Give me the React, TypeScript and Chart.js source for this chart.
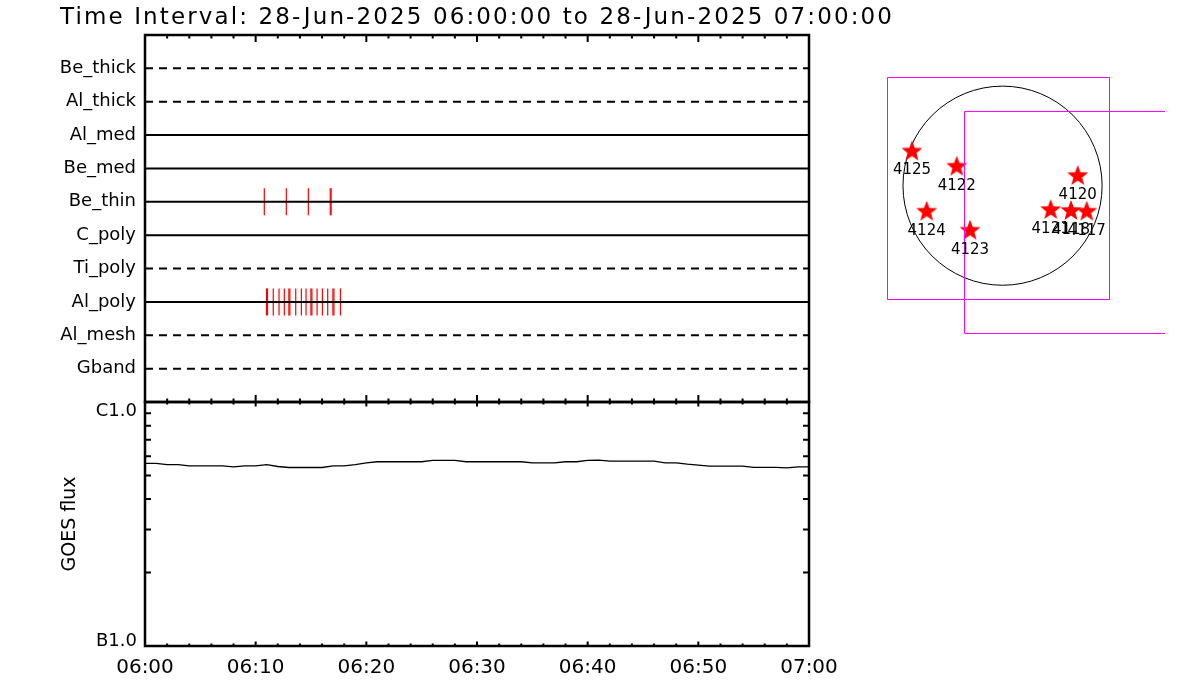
import React, { useEffect, useRef } from "react";
import { Chart, registerables } from "chart.js";

Chart.register(...registerables);

const FONT = '"DejaVu Sans", "Liberation Sans", sans-serif';

// ---------- data ----------
const TITLE = "Time Interval: 28-Jun-2025 06:00:00 to 28-Jun-2025 07:00:00";

const TIME_MIN = 0; // minutes after 06:00
const TIME_MAX = 60;

const FILTERS = ["Be_thick", "Al_thick", "Al_med", "Be_med", "Be_thin", "C_poly", "Ti_poly", "Al_poly", "Al_mesh", "Gband"];
const FILTER_IN_USE = [false, false, true, true, true, true, false, true, false, false];

// exposure times (minutes after 06:00)
const BE_THIN_TIMES = [10.78, 12.77, 14.76, 16.74, 16.82];
const AL_POLY_TIMES = [10.98, 11.07, 11.59, 12.11, 12.59, 13.0, 13.09, 13.62, 14.13, 14.55, 14.99, 15.08, 15.55, 16.03, 16.51, 16.98, 17.07, 17.66];

// GOES flux, one value per minute from 06:00 to 07:00 (W/m^2)
const GOES_FLUX = [
  5.60e-7, 5.60e-7, 5.54e-7, 5.54e-7, 5.47e-7, 5.47e-7, 5.47e-7, 5.47e-7, 5.42e-7, 5.47e-7,
  5.47e-7, 5.54e-7, 5.44e-7, 5.39e-7, 5.39e-7, 5.39e-7, 5.39e-7, 5.47e-7, 5.47e-7, 5.54e-7,
  5.63e-7, 5.69e-7, 5.69e-7, 5.69e-7, 5.69e-7, 5.69e-7, 5.76e-7, 5.76e-7, 5.76e-7, 5.69e-7,
  5.69e-7, 5.69e-7, 5.69e-7, 5.69e-7, 5.69e-7, 5.63e-7, 5.63e-7, 5.63e-7, 5.69e-7, 5.69e-7,
  5.76e-7, 5.78e-7, 5.72e-7, 5.72e-7, 5.72e-7, 5.72e-7, 5.72e-7, 5.63e-7, 5.63e-7, 5.56e-7,
  5.51e-7, 5.46e-7, 5.46e-7, 5.46e-7, 5.46e-7, 5.40e-7, 5.40e-7, 5.40e-7, 5.37e-7, 5.42e-7,
  5.42e-7,
];
const GOES_MIN = 1e-7;
const GOES_MAX = 1e-6;
const GOES_LABEL_LOW = "B1.0";
const GOES_LABEL_HIGH = "C1.0";
const GOES_AXIS_TITLE = "GOES flux";

const XTICK_VALUES = [0, 10, 20, 30, 40, 50, 60];
const XTICK_LABELS = ["06:00", "06:10", "06:20", "06:30", "06:40", "06:50", "07:00"];

// solar map (arcsec)
const SOLAR_RADIUS = 950;
const MAP_X_RANGE = [-1360, 1550];
const MAP_Y_RANGE = [-1520, 1390];
const AR_NUMBERS = ["4125", "4122", "4124", "4123", "4120", "4121", "4118", "4117"];
const AR_X = [-864, -437, -724, -310, 717, 459, 653, 803];
const AR_Y = [326, 181, -248, -429, 92, -232, -241, -248];
const FOV_CENTER_X = [-38.5, 696];
const FOV_CENTER_Y = [-27, -351];
const FOV_SIZE = [2118, 2118];

// ---------- helpers ----------
function drawXTicks(ctx: CanvasRenderingContext2D, xs: any, yPix: number, dir: number, majorLen: number, minorLen: number) {
  ctx.beginPath();
  for (let m = TIME_MIN; m <= TIME_MAX; m += 2) {
    const px = xs.getPixelForValue(m);
    const len = m % 10 === 0 ? majorLen : minorLen;
    ctx.moveTo(px, yPix);
    ctx.lineTo(px, yPix + dir * len);
  }
  ctx.stroke();
}

function makeStar(R: number, color: string) {
  const size = Math.ceil(R * 2) + 2;
  const c = document.createElement("canvas");
  c.width = size;
  c.height = size;
  const g = c.getContext("2d")!;
  g.translate(size / 2, size / 2);
  g.beginPath();
  for (let k = 0; k < 10; k++) {
    const r = k % 2 === 0 ? R : R * 0.42;
    const a = -Math.PI / 2 + (k * Math.PI) / 5;
    g.lineTo(r * Math.cos(a), r * Math.sin(a));
  }
  g.closePath();
  g.fillStyle = color;
  g.fill();
  return c;
}

const commonOpts = {
  animation: false as const,
  responsive: false,
  devicePixelRatio: 1,
  events: [] as any[],
  plugins: { legend: { display: false }, tooltip: { enabled: false }, title: { display: false } },
};

export default function App() {
  const filterRef = useRef<HTMLCanvasElement>(null);
  const goesRef = useRef<HTMLCanvasElement>(null);
  const mapRef = useRef<HTMLCanvasElement>(null);

  useEffect(() => {
    const charts: Chart[] = [];

    // ---------- filter panel ----------
    const filterPlugin = {
      id: "filterFrame",
      afterDraw(chart: any) {
        const { ctx, chartArea: a } = chart;
        const xs = chart.scales.x;
        ctx.save();
        ctx.strokeStyle = "#000";
        ctx.lineWidth = 2.5;
        ctx.strokeRect(a.left, a.top, a.right - a.left, a.bottom - a.top);
        ctx.lineWidth = 2;
        drawXTicks(ctx, xs, a.top, 1, 7, 3.5);
        drawXTicks(ctx, xs, a.bottom, -1, 7, 3.5);
        // title
        ctx.fillStyle = "#000";
        ctx.font = `23px ${FONT}`;
        ctx.textAlign = "left";
        ctx.textBaseline = "alphabetic";
        const w = ctx.measureText(TITLE).width;
        const sp = (832 - w) / (TITLE.length - 1);
        (ctx as any).letterSpacing = `${sp}px`;
        ctx.fillText(TITLE, 60, 24);
        ctx.restore();
      },
    };

    const filterLines = FILTERS.map((name, i) => ({
      type: "line" as const,
      label: name,
      data: [
        { x: TIME_MIN, y: i },
        { x: TIME_MAX, y: i },
      ],
      borderColor: "#000",
      borderWidth: 2,
      borderDash: FILTER_IN_USE[i] ? [] : [8, 6],
      pointRadius: 0,
    }));

    const tickSet = (times: number[], filter: string) => ({
      type: "scatter" as const,
      label: filter,
      data: times.map((t) => ({ x: t, y: FILTERS.indexOf(filter) })),
      pointStyle: "line",
      pointRotation: 90,
      pointRadius: 13.5,
      pointBorderColor: "#ff0000",
      pointBackgroundColor: "#ff0000",
      pointBorderWidth: 1.2,
      showLine: false,
    });

    charts.push(
      new Chart(filterRef.current!, {
        type: "line",
        data: {
          datasets: [...filterLines, tickSet(BE_THIN_TIMES, "Be_thin"), tickSet(AL_POLY_TIMES, "Al_poly")] as any,
        },
        options: {
          ...commonOpts,
          layout: { autoPadding: false, padding: { top: 35, right: 101, bottom: 28, left: 0 } },
          scales: {
            x: { type: "linear", min: TIME_MIN, max: TIME_MAX, display: false },
            y: {
              type: "linear",
              min: -1,
              max: FILTERS.length,
              reverse: true,
              afterFit: (s: any) => {
                s.width = 145;
              },
              afterBuildTicks: (s: any) => {
                s.ticks = FILTERS.map((_, i) => ({ value: i }));
              },
              grid: { display: false, drawTicks: false },
              border: { display: false },
              ticks: {
                color: "#000",
                font: { family: FONT, size: 18 },
                padding: 9,
                callback: (v: any) => FILTERS[v] ?? "",
              },
            },
          },
        } as any,
        plugins: [filterPlugin],
      })
    );

    // ---------- GOES panel ----------
    const goesPlugin = {
      id: "goesFrame",
      afterDraw(chart: any) {
        const { ctx, chartArea: a } = chart;
        const xs = chart.scales.x;
        const ys = chart.scales.y;
        ctx.save();
        ctx.strokeStyle = "#000";
        ctx.lineWidth = 2.5;
        ctx.strokeRect(a.left, a.top, a.right - a.left, a.bottom - a.top);
        ctx.lineWidth = 2;
        drawXTicks(ctx, xs, a.top, 1, 4.5, 2.5);
        drawXTicks(ctx, xs, a.bottom, -1, 4.5, 2.5);
        ctx.beginPath();
        for (let k = 2; k <= 9; k++) {
          const py = ys.getPixelForValue(k * GOES_MIN);
          ctx.moveTo(a.left, py);
          ctx.lineTo(a.left + 6, py);
          ctx.moveTo(a.right, py);
          ctx.lineTo(a.right - 6, py);
        }
        ctx.stroke();
        ctx.fillStyle = "#000";
        ctx.font = `18px ${FONT}`;
        ctx.textAlign = "right";
        ctx.textBaseline = "alphabetic";
        ctx.fillText(GOES_LABEL_HIGH, 137, ys.getPixelForValue(GOES_MAX) + 13.5);
        ctx.fillText(GOES_LABEL_LOW, 137, ys.getPixelForValue(GOES_MIN));
        ctx.translate(70, (a.top + a.bottom) / 2);
        ctx.rotate(-Math.PI / 2);
        ctx.textAlign = "center";
        ctx.textBaseline = "middle";
        ctx.font = `19px ${FONT}`;
        ctx.fillText(GOES_AXIS_TITLE, 0, 0);
        ctx.restore();
      },
    };

    charts.push(
      new Chart(goesRef.current!, {
        type: "line",
        data: {
          datasets: [
            {
              label: "GOES",
              data: GOES_FLUX.map((f, i) => ({ x: TIME_MIN + i, y: f })),
              borderColor: "#000",
              borderWidth: 1.3,
              pointRadius: 0,
              fill: false,
            },
          ],
        },
        options: {
          ...commonOpts,
          layout: { autoPadding: false, padding: { top: 402, right: 51, bottom: 0, left: 0 } },
          scales: {
            x: {
              type: "linear",
              min: TIME_MIN,
              max: TIME_MAX,
              position: "bottom",
              afterBuildTicks: (s: any) => {
                s.ticks = XTICK_VALUES.map((v) => ({ value: v }));
              },
              afterFit: (s: any) => {
                s.height = 54;
              },
              grid: { display: false, drawTicks: false },
              border: { display: false },
              ticks: {
                color: "#000",
                font: { family: FONT, size: 20 },
                padding: 10,
                maxRotation: 0,
                autoSkip: false,
                callback: (v: any) => XTICK_LABELS[XTICK_VALUES.indexOf(v)] ?? "",
              },
            },
            y: {
              type: "logarithmic",
              min: GOES_MIN,
              max: GOES_MAX,
              afterFit: (s: any) => {
                s.width = 145;
              },
              grid: { display: false, drawTicks: false },
              border: { display: false },
              ticks: { display: false },
            },
          },
        } as any,
        plugins: [goesPlugin],
      })
    );

    // ---------- solar map ----------
    const star = makeStar(11, "#ff0000");
    const mapPlugin = {
      id: "mapExtras",
      beforeDatasetsDraw(chart: any) {
        const { ctx } = chart;
        const xs = chart.scales.x;
        const ys = chart.scales.y;
        const cx = xs.getPixelForValue(0);
        const cy = ys.getPixelForValue(0);
        const r = xs.getPixelForValue(SOLAR_RADIUS) - cx;
        ctx.save();
        ctx.strokeStyle = "#000";
        ctx.lineWidth = 1;
        ctx.beginPath();
        ctx.arc(cx, cy, r, 0, Math.PI * 2);
        ctx.stroke();
        ctx.restore();
      },
      afterDatasetsDraw(chart: any) {
        const { ctx } = chart;
        const xs = chart.scales.x;
        const ys = chart.scales.y;
        ctx.save();
        ctx.fillStyle = "#000";
        ctx.font = `15px ${FONT}`;
        ctx.textAlign = "center";
        ctx.textBaseline = "middle";
        AR_NUMBERS.forEach((n, i) => {
          ctx.fillText(n, xs.getPixelForValue(AR_X[i]), ys.getPixelForValue(AR_Y[i]) + 19);
        });
        ctx.restore();
      },
    };

    const fovSets = FOV_CENTER_X.map((xc, i) => {
      const h = FOV_SIZE[i] / 2;
      const yc = FOV_CENTER_Y[i];
      return {
        type: "line" as const,
        label: `fov${i}`,
        data: [
          { x: xc - h, y: yc + h },
          { x: xc + h, y: yc + h },
          { x: xc + h, y: yc - h },
          { x: xc - h, y: yc - h },
          { x: xc - h, y: yc + h },
        ],
        borderColor: "#ff00ff",
        borderWidth: 1,
        pointRadius: 0,
        fill: false,
      };
    });

    charts.push(
      new Chart(mapRef.current!, {
        type: "line",
        data: {
          datasets: [
            ...fovSets,
            {
              type: "scatter",
              label: "AR",
              data: AR_X.map((x, i) => ({ x, y: AR_Y[i] })),
              pointStyle: star,
              pointRadius: 11,
              showLine: false,
            },
          ] as any,
        },
        options: {
          ...commonOpts,
          layout: { autoPadding: false, padding: 0 },
          scales: {
            x: { type: "linear", min: MAP_X_RANGE[0], max: MAP_X_RANGE[1], display: false },
            y: { type: "linear", min: MAP_Y_RANGE[0], max: MAP_Y_RANGE[1], display: false },
          },
        } as any,
        plugins: [mapPlugin],
      })
    );

    return () => charts.forEach((c) => c.destroy());
  }, []);

  return (
    <div style={{ position: "absolute", left: 0, top: 0, width: 1200, height: 700, background: "#fff", overflow: "hidden" }}>
      <canvas ref={filterRef} width={910} height={430} style={{ position: "absolute", left: 0, top: 0 }} />
      <canvas ref={goesRef} width={860} height={700} style={{ position: "absolute", left: 0, top: 0 }} />
      <canvas ref={mapRef} width={305} height={305} style={{ position: "absolute", left: 860, top: 40 }} />
    </div>
  );
}
